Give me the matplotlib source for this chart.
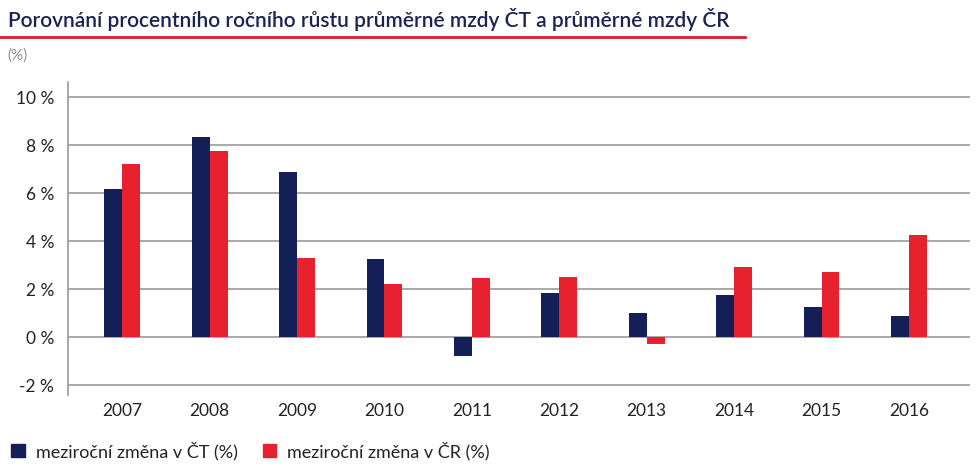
import numpy as np
import matplotlib.pyplot as plt
from matplotlib.patches import Patch
from matplotlib.lines import Line2D

years = ['2007', '2008', '2009', '2010', '2011', '2012', '2013', '2014', '2015', '2016']
ct = [6.2, 8.37, 6.89, 3.26, -0.77, 1.85, 1.01, 1.75, 1.29, 0.89]
cr = [7.24, 7.79, 3.33, 2.24, 2.47, 2.51, -0.28, 2.93, 2.71, 4.26]
yticks = [-2, 0, 2, 4, 6, 8, 10]

navy = '#131f56'
red = '#e8212e'
plt.rcParams['font.family'] = ['Lato', 'DejaVu Sans']

fig = plt.figure(figsize=(9.78, 4.72), dpi=100)
ax = fig.add_axes([0.0695, 0.163, 0.9225, 0.663])

x = np.arange(len(years))
w = 0.205
ax.bar(x - w / 2, ct, w, color=navy, zorder=3)
ax.bar(x + w / 2, cr, w, color=red, zorder=3)

ax.set_xlim(-0.62, 9.7)
ax.set_ylim(-2.4, 10.64)
ax.set_yticks(yticks)
ax.set_yticklabels(['%d %%' % v for v in yticks], fontsize=12.5, color='#222222')
ax.set_xticks(x)
ax.set_xticklabels(years, fontsize=12.5, color='#222222')
ax.tick_params(axis='both', length=0, pad=10)
ax.tick_params(axis='x', pad=6)
ax.grid(axis='y', color='#9a9a9a', linewidth=1.2, zorder=0)
for s in ['top', 'right', 'bottom']:
    ax.spines[s].set_visible(False)
ax.spines['left'].set_color('#9a9a9a')
ax.spines['left'].set_linewidth(1.2)

fig.text(0.008, 0.958, 'Porovnání procentního ročního růstu průměrné mzdy ČT a průměrné mzdy ČR',
         fontsize=15, fontweight='semibold', color='#1b2352', ha='left', va='center')
fig.add_artist(Line2D([0.0, 0.762], [0.922, 0.922], color='#d4202c', linewidth=2))
fig.text(0.008, 0.883, '(%)', fontsize=11, color='#8a8a8a', ha='left', va='center')

handles = [Patch(color=navy), Patch(color=red)]
fig.legend(handles, ['meziroční změna v ČT (%)', 'meziroční změna v ČR (%)'],
           loc='center left', bbox_to_anchor=(-0.005, 0.045), ncol=2, frameon=False,
           fontsize=13, handlelength=0.75, handleheight=0.75, handletextpad=0.6,
           columnspacing=1.4, labelcolor='#222222')

fig.savefig('out.png', dpi=100)
